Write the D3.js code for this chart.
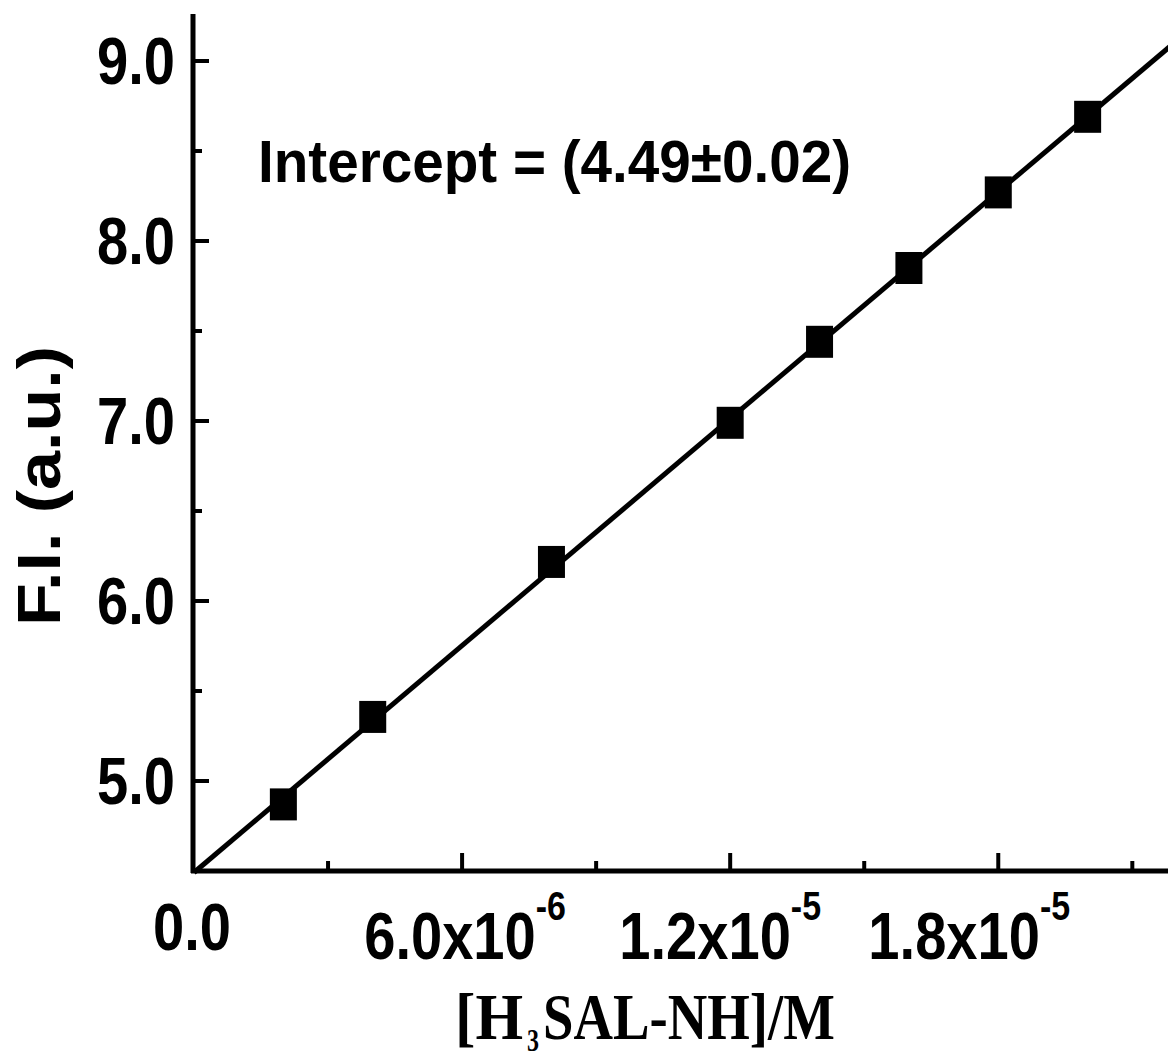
<!DOCTYPE html>
<html><head><meta charset="utf-8">
<script src="https://cdn.jsdelivr.net/npm/d3@7"></script>
<style>html,body{margin:0;padding:0;background:#fff;overflow:hidden}</style>
</head><body>
<svg id="c" width="1168" height="1061"></svg>
<script>
// ---- data ----
const concentrations = [2e-6, 4e-6, 8e-6, 1.2e-5, 1.4e-5, 1.6e-5, 1.8e-5, 2.0e-5];
const intensities = [4.87, 5.356, 6.217, 6.99, 7.44, 7.85, 8.27, 8.69];
const xMajorTicks = [0, 6e-6, 1.2e-5, 1.8e-5];
const xTickMantissa = ["0.0", "6.0x10", "1.2x10", "1.8x10"];
const xTickExponent = ["", "-6", "-5", "-5"];
const yMajorTicks = [5, 6, 7, 8, 9];
const yTickLabels = ["5.0", "6.0", "7.0", "8.0", "9.0"];
const yMinorTicks = [5.5, 6.5, 7.5, 8.5];
const xMinorTicks = [3e-6, 9e-6, 1.5e-5, 2.1e-5];
const annotation = "Intercept = (4.49\u00B10.02)";

// ---- layout ----
const svg = d3.select("#c");
const x = d3.scaleLinear().domain([0, 2.2e-5]).range([194, 1177]);
const y = d3.scaleLinear().domain([4.5, 9.25]).range([871, 16]);
const sans = "'Liberation Sans', Arial, sans-serif";
const serif = "'Liberation Serif', 'Times New Roman', serif";

// linear fit
const n = concentrations.length;
const mx = d3.mean(concentrations), my = d3.mean(intensities);
let sxy = 0, sxx = 0;
for (let i = 0; i < n; i++) { sxy += (concentrations[i]-mx)*(intensities[i]-my); sxx += (concentrations[i]-mx)**2; }
const slope = sxy / sxx, icpt = my - slope * mx;
const fitX = [0, 2.2e-5];
svg.append("path")
  .attr("d", d3.line().x(d => x(d)).y(d => y(icpt + slope * d))(fitX))
  .attr("stroke", "#000").attr("stroke-width", 5).attr("fill", "none");

// markers
svg.selectAll("rect.pt").data(concentrations).join("rect")
  .attr("class", "pt")
  .attr("x", d => x(d) - 13.5).attr("y", (d, i) => y(intensities[i]) - 16)
  .attr("width", 27).attr("height", 32).attr("fill", "#000");

// axes lines
svg.append("line").attr("x1", 193).attr("x2", 193).attr("y1", 14).attr("y2", 873)
  .attr("stroke", "#000").attr("stroke-width", 5);
svg.append("line").attr("x1", 191).attr("x2", 1170).attr("y1", 871).attr("y2", 871)
  .attr("stroke", "#000").attr("stroke-width", 5);

// y ticks
svg.selectAll("line.ymaj").data(yMajorTicks).join("line")
  .attr("class", "ymaj")
  .attr("x1", 193).attr("x2", 209).attr("y1", d => y(d)).attr("y2", d => y(d))
  .attr("stroke", "#000").attr("stroke-width", 4);
svg.selectAll("line.ymin").data(yMinorTicks).join("line")
  .attr("class", "ymin")
  .attr("x1", 193).attr("x2", 202).attr("y1", d => y(d)).attr("y2", d => y(d))
  .attr("stroke", "#000").attr("stroke-width", 4);
// x ticks
svg.selectAll("line.xmaj").data(xMajorTicks.slice(1)).join("line")
  .attr("class", "xmaj")
  .attr("x1", d => x(d)).attr("x2", d => x(d)).attr("y1", 871).attr("y2", 853)
  .attr("stroke", "#000").attr("stroke-width", 4);
svg.selectAll("line.xmin").data(xMinorTicks).join("line")
  .attr("class", "xmin")
  .attr("x1", d => x(d)).attr("x2", d => x(d)).attr("y1", 871).attr("y2", 861)
  .attr("stroke", "#000").attr("stroke-width", 4);

// y tick labels
yMajorTicks.forEach((v, i) => {
  svg.append("text")
    .attr("transform", `translate(175,${y(v) + 23}) scale(0.85,1)`)
    .attr("text-anchor", "end").attr("font-family", sans).attr("font-weight", "bold")
    .attr("font-size", 66).text(yTickLabels[i]);
});

// x tick labels
const xNudge = [-2, 3, -10, -29];
xMajorTicks.forEach((v, i) => {
  const base = i === 0 ? 950 : 959;
  const t = svg.append("text")
    .attr("transform", `translate(${x(v) + xNudge[i]},${base}) scale(0.85,1)`)
    .attr("text-anchor", "middle").attr("font-family", sans).attr("font-weight", "bold")
    .attr("font-size", 66);
  t.append("tspan").text(xTickMantissa[i]);
  if (xTickExponent[i]) t.append("tspan").attr("font-size", 40).attr("dy", -39).text(xTickExponent[i]);
});

// axis titles
svg.append("text")
  .attr("transform", "translate(60,486) rotate(-90) scale(1,0.87)")
  .attr("text-anchor", "middle").attr("font-family", sans).attr("font-weight", "bold")
  .attr("font-size", 70).text("F.I. (a.u.)");

function serifText(str, x0, y0, size, len) {
  svg.append("text").attr("x", x0).attr("y", y0)
    .attr("font-family", serif).attr("font-weight", "bold").attr("font-size", size)
    .attr("textLength", len).attr("lengthAdjust", "spacingAndGlyphs").text(str);
}
serifText("[H", 455, 1039, 66, 68);
serifText("3", 527, 1051, 32, 12);
serifText("SAL-NH]/M", 543, 1039, 66, 292);

// annotation
svg.append("text")
  .attr("x", 258).attr("y", 182).attr("font-family", sans).attr("font-weight", "bold")
  .attr("font-size", 59).attr("textLength", 593).attr("lengthAdjust", "spacingAndGlyphs")
  .text(annotation);
</script>
</body></html>
